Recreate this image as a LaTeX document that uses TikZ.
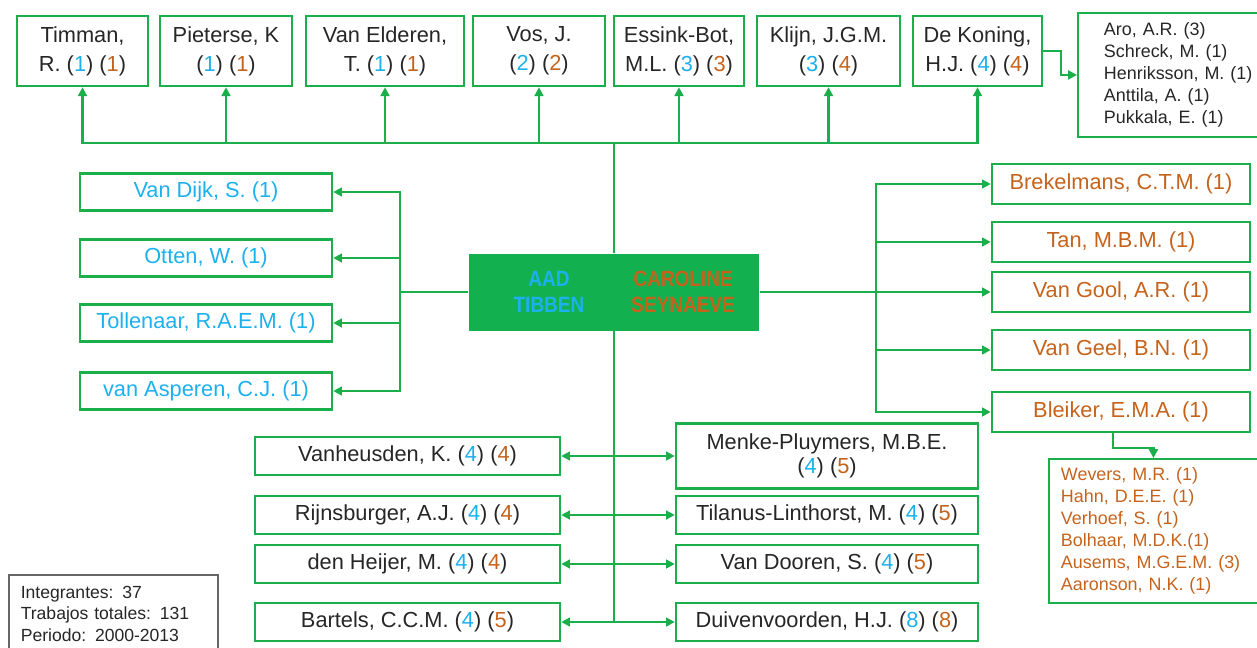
\documentclass[tikz,border=0pt]{standalone}
\usepackage{fontspec}
\setmainfont{Liberation Sans}
\usepackage{xcolor}
\usetikzlibrary{arrows.meta,positioning}
\definecolor{lnk}{HTML}{1AAF4B}
\definecolor{corefill}{HTML}{12B04F}
\definecolor{cblue}{HTML}{1CB0EE}
\definecolor{corange}{HTML}{C5631C}
\definecolor{txt}{HTML}{262626}
\newcommand{\pblue}[1]{\textcolor{cblue}{#1}}
\newcommand{\porange}[1]{\textcolor{corange}{#1}}

\begin{document}
\begin{tikzpicture}[x=0.02cm,y=-0.02cm]
\tikzstyle{person} = [rectangle, draw=lnk, line width=1.4pt, text=txt, align=center, inner sep=0pt, font=\fontsize{12.4}{16.5}\selectfont]
\tikzstyle{roster} = [rectangle, draw=lnk, line width=1.1pt, align=left, anchor=north west, inner ysep=0pt, font=\fontsize{10.2}{12.5}\selectfont]
\tikzstyle{link} = [draw=lnk, line width=1.4pt, -{Triangle[length=5pt,width=5pt]}]
\tikzstyle{trunk} = [draw=lnk, line width=1.4pt]
\tikzstyle{lead} = [align=center, font=\fontsize{12.6}{14.7}\selectfont\bfseries]
\useasboundingbox (0,0) rectangle (1257,647);

% top row
\node (timman) [person, minimum width=2.62cm, minimum height=1.4cm] at (82.5,51) {Timman,\\R. (\pblue{1}) (\porange{1})};
\node (pieterse) [person, minimum width=2.64cm, minimum height=1.4cm] at (226,51) {Pieterse, K\\(\pblue{1}) (\porange{1})};
\node (vanelderen) [person, minimum width=3.16cm, minimum height=1.4cm] at (385,51) {Van Elderen,\\T. (\pblue{1}) (\porange{1})};
\node (vos) [person, minimum width=2.64cm, minimum height=1.4cm] at (539,51) {Vos, J.\\(\pblue{2}) (\porange{2})};
\node (essink) [person, minimum width=2.6cm, minimum height=1.4cm] at (679,51) {Essink-Bot,\\M.L. (\pblue{3}) (\porange{3})};
\node (klijn) [person, minimum width=2.86cm, minimum height=1.4cm] at (828.5,51) {Klijn, J.G.M.\\(\pblue{3}) (\porange{4})};
\node (dekoning) [person, minimum width=2.58cm, minimum height=1.4cm] at (977.5,51) {De Koning,\\H.J. (\pblue{4}) (\porange{4})};
\node (aro) [roster, text=txt, text width=3.1cm, inner xsep=0.52cm, minimum height=2.48cm] at (1077,12) {Aro, A.R. (3)\\Schreck, M. (1)\\Henriksson, M. (1)\\Anttila, A. (1)\\Pukkala, E. (1)};

% core
\node (core) [rectangle, fill=corefill, minimum width=5.82cm, minimum height=1.54cm] at (614,292) {};
\node (tibben) [lead, text=cblue] at (549,292) {\scalebox{0.86}[1]{AAD}\\\scalebox{0.86}[1]{TIBBEN}};
\node (seynaeve) [lead, text=corange] at (683,292) {\scalebox{0.86}[1]{CAROLINE}\\\scalebox{0.86}[1]{SEYNAEVE}};

% left column
\node (vandijk) [person, text=cblue, minimum width=5.04cm, minimum height=0.74cm] at (206,192) {Van Dijk, S. (1)};
\node (otten) [person, text=cblue, minimum width=5.04cm, minimum height=0.74cm] at (206,258) {Otten, W. (1)};
\node (tollenaar) [person, text=cblue, minimum width=5.04cm, minimum height=0.74cm] at (206,323) {Tollenaar, R.A.E.M. (1)};
\node (vanasperen) [person, text=cblue, minimum width=5.04cm, minimum height=0.74cm] at (206,391) {van Asperen, C.J. (1)};

% right column
\node (brekelmans) [person, text=corange, minimum width=5.16cm, minimum height=0.8cm] at (1121,184) {Brekelmans, C.T.M. (1)};
\node (tan) [person, text=corange, minimum width=5.16cm, minimum height=0.8cm] at (1121,242) {Tan, M.B.M. (1)};
\node (vangool) [person, text=corange, minimum width=5.16cm, minimum height=0.8cm] at (1121,292) {Van Gool, A.R. (1)};
\node (vangeel) [person, text=corange, minimum width=5.16cm, minimum height=0.8cm] at (1121,350) {Van Geel, B.N. (1)};
\node (bleiker) [person, text=corange, minimum width=5.16cm, minimum height=0.8cm] at (1121,412) {Bleiker, E.M.A. (1)};
\node (wevers) [roster, text=corange, text width=3.7cm, inner xsep=0.24cm, minimum height=2.88cm] at (1048,458) {Wevers, M.R. (1)\\Hahn, D.E.E. (1)\\Verhoef, S. (1)\\Bolhaar, M.D.K.(1)\\Ausems, M.G.E.M. (3)\\Aaronson, N.K. (1)};

% bottom left
\node (vanheusden) [person, minimum width=6.1cm, minimum height=0.76cm] at (407.5,456) {Vanheusden, K. (\pblue{4}) (\porange{4})};
\node (rijnsburger) [person, minimum width=6.1cm, minimum height=0.76cm] at (407.5,515) {Rijnsburger, A.J. (\pblue{4}) (\porange{4})};
\node (denheijer) [person, minimum width=6.1cm, minimum height=0.76cm] at (407.5,564) {den Heijer, M. (\pblue{4}) (\porange{4})};
\node (bartels) [person, minimum width=6.1cm, minimum height=0.76cm] at (407.5,622) {Bartels, C.C.M. (\pblue{4}) (\porange{5})};

% bottom right
\node (menke) [person, minimum width=6.04cm, minimum height=1.3cm, font=\fontsize{12.4}{13.8}\selectfont] at (827,456) {Menke-Pluymers, M.B.E.\\(\pblue{4}) (\porange{5})};
\node (tilanus) [person, minimum width=6.04cm, minimum height=0.76cm] at (827,515) {Tilanus-Linthorst, M. (\pblue{4}) (\porange{5})};
\node (vandooren) [person, minimum width=6.04cm, minimum height=0.76cm] at (827,564) {Van Dooren, S. (\pblue{4}) (\porange{5})};
\node (duivenvoorden) [person, minimum width=6.04cm, minimum height=0.76cm] at (827,622) {Duivenvoorden, H.J. (\pblue{8}) (\porange{8})};

% summary
\node (summary) [roster, draw=black!60, line width=0.9pt, text=txt, text width=3.7cm, inner xsep=0.24cm, minimum height=1.56cm, font=\fontsize{10}{12.2}\selectfont] at (8,574) {Integrantes: 37\\Trabajos totales: 131\\Periodo: 2000-2013};

\coordinate (bus) at (614,143);
\coordinate (lhub) at (400,292);
\coordinate (rhub) at (876,292);

\draw [trunk] (core) -- (bus);
\foreach \n in {timman,pieterse,vanelderen,vos,essink,klijn,dekoning}
  \draw [link] (bus) -| (\n);
\draw [link] (dekoning.east) -- ++(18,0) |- (aro);

\draw [trunk] (core) -- (lhub);
\foreach \n in {vandijk,otten,tollenaar,vanasperen}
  \draw [link] (lhub) |- (\n);

\draw [trunk] (core) -- (rhub);
\foreach \n in {brekelmans,tan,vangool,vangeel,bleiker}
  \draw [link] (rhub) |- (\n);
\draw [link] ([xshift=-0.16cm]bleiker.south) -- ++(0,15) -| (wevers);

\draw [trunk] (core) -- (core.south |- bartels);
\foreach \n in {vanheusden,rijnsburger,denheijer,bartels,menke,tilanus,vandooren,duivenvoorden}
  \draw [link] (core.south |- \n) -- (\n);

\end{tikzpicture}
\end{document}
